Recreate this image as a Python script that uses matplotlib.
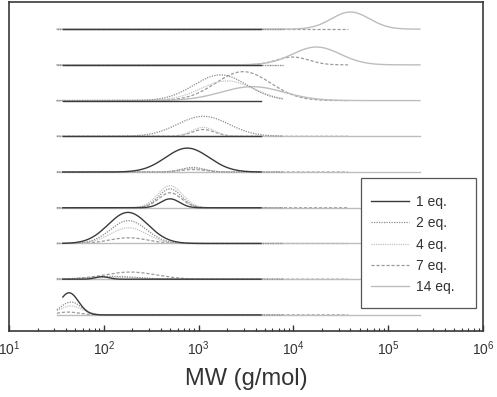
import numpy as np
import matplotlib
matplotlib.use("Agg")
import matplotlib.pyplot as plt
from matplotlib.patches import Rectangle

plt.rcParams['font.family'] = ['Liberation Sans', 'DejaVu Sans']
plt.rcParams['mathtext.default'] = 'regular'

# ---- data -------------------------------------------------------------
series_labels = ["1 eq.", "2 eq.", "4 eq.", "7 eq.", "14 eq."]
# MW range (g/mol) covered by each series
series_mw_start = [37, 32, 32, 32, 32]
series_mw_end = [4550, 7770, 7770, 37700, 216000]

# rows listed from bottom (offset 0) to top (offset 8)
row_offsets = [0, 1, 2, 3, 4, 5, 6, 7, 8]

# peaks per row per series: (peak MW, height in row units, width in decades)
peaks = [
    # row 0 (bottom)
    {"1 eq.": [(43, 0.62, 0.10)], "2 eq.": [(45, 0.36, 0.11)],
     "4 eq.": [(45, 0.25, 0.12)], "7 eq.": [(42, 0.08, 0.12)], "14 eq.": []},
    # row 1
    {"1 eq.": [(96, 0.07, 0.07)], "2 eq.": [(125, 0.08, 0.25)],
     "4 eq.": [(125, 0.05, 0.25)], "7 eq.": [(190, 0.20, 0.27)], "14 eq.": []},
    # row 2
    {"1 eq.": [(180, 0.87, 0.21)], "2 eq.": [(182, 0.64, 0.19)],
     "4 eq.": [(182, 0.44, 0.19)], "7 eq.": [(182, 0.16, 0.20)], "14 eq.": []},
    # row 3
    {"1 eq.": [(500, 0.25, 0.10)], "2 eq.": [(500, 0.53, 0.12)],
     "4 eq.": [(500, 0.62, 0.13)], "7 eq.": [(500, 0.42, 0.12)], "14 eq.": []},
    # row 4
    {"1 eq.": [(760, 0.67, 0.23)], "2 eq.": [(870, 0.13, 0.12)],
     "4 eq.": [(870, 0.10, 0.13)], "7 eq.": [(870, 0.07, 0.13)], "14 eq.": []},
    # row 5
    {"1 eq.": [], "2 eq.": [(1120, 0.56, 0.27)],
     "4 eq.": [(1120, 0.25, 0.12)], "7 eq.": [(1120, 0.19, 0.12)], "14 eq.": []},
    # row 6
    {"1 eq.": [], "2 eq.": [(1700, 0.72, 0.28)],
     "4 eq.": [(2000, 0.55, 0.28)], "7 eq.": [(2950, 0.81, 0.29)],
     "14 eq.": [(3700, 0.39, 0.33)]},
    # row 7
    {"1 eq.": [], "2 eq.": [], "4 eq.": [],
     "7 eq.": [(9800, 0.22, 0.17)], "14 eq.": [(17500, 0.50, 0.25)]},
    # row 8 (top)
    {"1 eq.": [], "2 eq.": [], "4 eq.": [], "7 eq.": [],
     "14 eq.": [(40000, 0.48, 0.20)]},
]

x_ticks = [1e1, 1e2, 1e3, 1e4, 1e5, 1e6]

# ---- styles -----------------------------------------------------------
styles = {
    "1 eq.": dict(color="#3a3a3a", lw=1.0, ls="-", zorder=6),
    "2 eq.": dict(color="#8c8c8c", lw=0.9, ls=(0, (1, 1)), zorder=5),
    "4 eq.": dict(color="#c4c4c4", lw=0.9, ls=(0, (1, 0.8)), zorder=4),
    "7 eq.": dict(color="#9a9a9a", lw=0.9, ls=(0, (2.5, 1.5)), zorder=2),
    "14 eq.": dict(color="#bdbdbd", lw=1.0, ls="-", zorder=3),
}

fig = plt.figure(figsize=(4.97, 3.97), dpi=100)
ax = fig.add_axes([9 / 497, 1 - 331 / 397, 474 / 497, 329 / 397])

for si, lab in enumerate(series_labels):
    lx = np.linspace(np.log10(series_mw_start[si]), np.log10(series_mw_end[si]), 600)
    for ri, off in enumerate(row_offsets):
        y = np.zeros_like(lx)
        for (mw, h, w) in peaks[ri][lab]:
            y += h * np.exp(-0.5 * ((lx - np.log10(mw)) / w) ** 2)
        ax.plot(10 ** lx, off + y, label=lab if ri == 0 else None, **styles[lab])

ax.set_xscale("log")
ax.set_xlim(1e1, 1e6)
ax.set_ylim(-0.45, 8.76)
ax.set_yticks([])
ax.set_xticks(x_ticks)
ax.set_xticklabels([r"$10^{%d}$" % int(np.log10(t)) for t in x_ticks])
ax.tick_params(axis="x", which="major", direction="in", length=4.5, width=1.0,
               color="#333333", labelsize=10, pad=6, labelcolor="#333333")
ax.tick_params(axis="x", which="minor", direction="in", length=2.5, width=0.8,
               color="#333333")
for s in ax.spines.values():
    s.set_color("#3a3a3a")
    s.set_linewidth(1.2)

ax.set_xlabel("MW (g/mol)", fontsize=17, color="#333333", labelpad=7)

# legend box (frame drawn separately to match the reference's padding)
ax.add_patch(Rectangle((0.743, 0.070), 0.2426, 0.395, transform=ax.transAxes,
                       facecolor="white", edgecolor="#555555", lw=0.9, zorder=9))
leg = ax.legend(loc="upper left", bbox_to_anchor=(0.764, 0.413), fontsize=10,
                frameon=False, handlelength=2.75, handletextpad=0.45,
                labelspacing=0.52, borderpad=0, borderaxespad=0)
leg.set_zorder(10)
for t in leg.get_texts():
    t.set_color("#333333")

fig.savefig("out.png", dpi=100)
